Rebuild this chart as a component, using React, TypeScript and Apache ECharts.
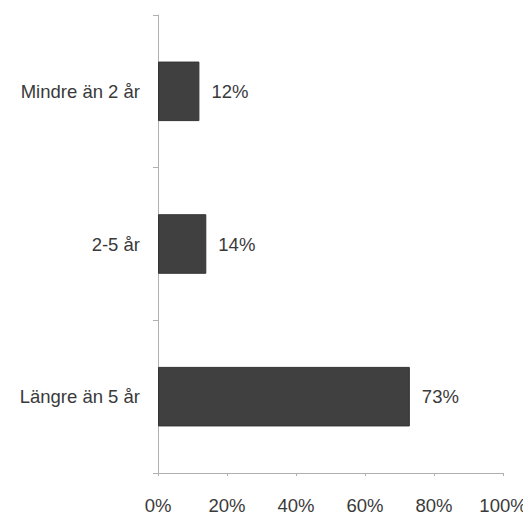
import React, { useEffect, useRef } from "react";
import * as echarts from "echarts";

const categories = ["Längre än 5 år", "2-5 år", "Mindre än 2 år"];
const values = [73, 14, 12];
const xTicks = [0, 20, 40, 60, 80, 100];

export default function App() {
  const ref = useRef<HTMLDivElement>(null);
  useEffect(() => {
    if (!ref.current) return;
    const chart = echarts.init(ref.current, null, { renderer: "svg" });
    const font = "Liberation Sans, Arial, sans-serif";
    chart.setOption({
      animation: false,
      backgroundColor: "#ffffff",
      grid: { left: 158, right: 28, top: 15, bottom: 43, containLabel: false },
      xAxis: {
        type: "value",
        min: xTicks[0],
        max: xTicks[xTicks.length - 1],
        interval: 20,
        axisLine: { show: true, lineStyle: { color: "#b0b0b0", width: 1 } },
        axisTick: { show: true, length: 3, lineStyle: { color: "#b0b0b0" } },
        splitLine: { show: false },
        axisLabel: {
          formatter: "{value}%",
          color: "#3a3a3a",
          fontSize: 18.5,
          fontFamily: font,
          margin: 23,
        },
      },
      yAxis: {
        type: "category",
        data: categories,
        axisLine: { show: true, lineStyle: { color: "#b0b0b0", width: 1 } },
        axisTick: { show: true, length: 5, alignWithLabel: false, lineStyle: { color: "#b0b0b0" } },
        axisLabel: {
          color: "#3a3a3a",
          fontSize: 18.5,
          fontFamily: font,
          margin: 18,
        },
      },
      series: [
        {
          type: "bar",
          data: values,
          barWidth: "39%",
          itemStyle: { color: "#404040", borderColor: "#333", borderWidth: 1 },
          label: {
            show: true,
            position: "right",
            distance: 12,
            formatter: "{c}%",
            color: "#3a3a3a",
            fontSize: 18.5,
            fontFamily: font,
          },
        },
      ],
    });
    return () => chart.dispose();
  }, []);
  return <div ref={ref} style={{ width: 531, height: 516, marginLeft: -8, marginTop: -8 }} />;
}
